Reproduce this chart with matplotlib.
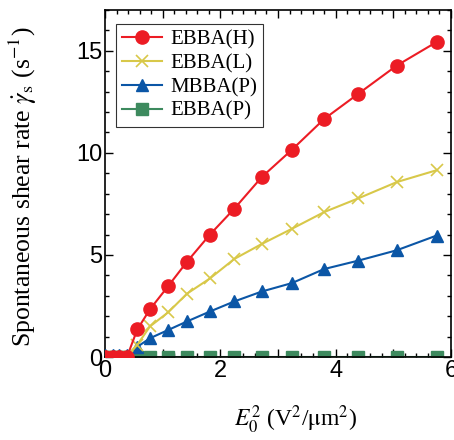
import numpy as np
import matplotlib
matplotlib.use('Agg')
import matplotlib.pyplot as plt
from matplotlib.ticker import MultipleLocator, FuncFormatter

plt.rcParams['mathtext.fontset'] = 'stix'
plt.rcParams['font.family'] = 'Liberation Serif'

# E0^2 values (V^2/um^2), shared by all series
e2 = [0.0, 0.13, 0.24, 0.38, 0.56, 0.78, 1.10, 1.42, 1.82, 2.24, 2.72, 3.24,
      3.80, 4.39, 5.06, 5.75]
ebba_h = [0, 0, 0, 0, 1.35, 2.34, 3.49, 4.66, 6.0, 7.26, 8.82, 10.15, 11.66,
          12.89, 14.28, 15.43]
ebba_l = [0, 0, 0, 0, 0.6, 1.5, 2.2, 3.1, 3.85, 4.8, 5.54, 6.28, 7.1, 7.77,
          8.57, 9.15]
mbba_p = [0.08, 0.08, 0.08, 0.1, 0.5, 0.92, 1.33, 1.74, 2.23, 2.72, 3.21,
          3.62, 4.31, 4.72, 5.23, 5.95]
ebba_p = [0.0] * 16

fig = plt.figure(figsize=(4.54, 4.40), dpi=100)
ax = fig.add_axes([0.2313, 0.1886, 0.7621, 0.7887])

ax.plot(e2, ebba_p, '-s', color='#3d8a5e', lw=1.5, ms=8, label='EBBA(P)', zorder=2)
ax.plot(e2, mbba_p, '-^', color='#0b56a6', lw=1.5, ms=9, label='MBBA(P)', zorder=3)
ax.plot(e2, ebba_l, '-x', color='#d8c849', lw=1.5, ms=9, mew=1.2, label='EBBA(L)', zorder=4)
ax.plot(e2, ebba_h, '-o', color='#ec1c24', lw=1.5, ms=9.5, label='EBBA(H)', zorder=5)

handles, labels = ax.get_legend_handles_labels()
leg = ax.legend(handles[::-1], labels[::-1], loc='upper left',
                bbox_to_anchor=(0.032, 0.96), borderaxespad=0, fontsize=15,
                frameon=True, fancybox=False, edgecolor='black',
                handlelength=1.9, labelspacing=0.2,
                handletextpad=0.4, borderpad=0.3)
leg.get_frame().set_linewidth(0.8)

ax.set_xlim(0, 6)
ax.set_ylim(0, 17)
ax.xaxis.set_major_locator(MultipleLocator(1))
ax.xaxis.set_minor_locator(MultipleLocator(0.2))
ax.xaxis.set_major_formatter(FuncFormatter(lambda v, p: '%d' % v if int(round(v)) % 2 == 0 else ''))
ax.yaxis.set_major_locator(MultipleLocator(5))
ax.yaxis.set_minor_locator(MultipleLocator(1))
ax.tick_params(which='both', direction='in', top=True, right=True)
ax.tick_params(which='major', length=6, width=1, pad=2)
ax.tick_params(which='minor', length=3, width=1)
for lab in ax.get_xticklabels() + ax.get_yticklabels():
    lab.set_fontfamily('Liberation Sans')
    lab.set_fontsize(17)
for s in ax.spines.values():
    s.set_linewidth(1.2)

ax.set_xlabel(r'$E_0^2$ (V$^2$/$\mathrm{\mu}$m$^2$)', fontsize=17)
ax.xaxis.set_label_coords(0.55, -0.135)
ax.xaxis.label.set_verticalalignment('top')
ax.set_ylabel(r'Spontaneous shear rate $\dot{\gamma}_{\mathrm{s}}$ (s$^{-1}$)', fontsize=18.5)
ax.yaxis.set_label_coords(-0.19, 0.49)

fig.savefig('out.png', dpi=100)
